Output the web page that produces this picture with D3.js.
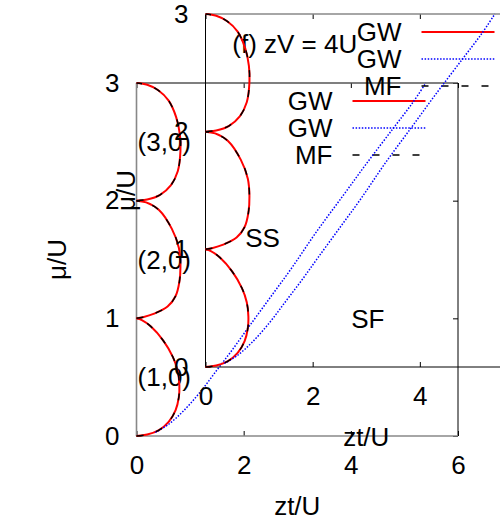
<!DOCTYPE html>
<html><head><meta charset="utf-8">
<script src="https://cdn.jsdelivr.net/npm/d3@7"></script>
<style>body{margin:0;background:#fff} text{font-family:"Liberation Sans",Arial,Helvetica,sans-serif;}</style>
</head><body><svg id="c" width="500" height="525"></svg>
<script>
// ---- data ----
const xTicks = [0, 2, 4, 6];
const yTicks = [0, 1, 2, 3];
const lobe1 = [[0,0],[0.2,0.012],[0.42,0.05],[0.6,0.12],[0.73,0.22],[0.79,0.33],[0.8,0.43],[0.77,0.55],[0.68,0.67],[0.5,0.81],[0.27,0.93],[0.1,0.985],[0,1]];
const lobe2 = [[0,1],[0.12,1.01],[0.33,1.04],[0.58,1.1],[0.73,1.19],[0.8,1.31],[0.82,1.45],[0.79,1.6],[0.66,1.76],[0.42,1.92],[0.18,1.985],[0,2]];
const lobe3 = [[0,2],[0.2,2.01],[0.44,2.05],[0.64,2.13],[0.77,2.25],[0.82,2.42],[0.81,2.56],[0.74,2.71],[0.6,2.85],[0.4,2.94],[0.2,2.985],[0,3]];
const boundary = [[0.35,0.03],[0.6,0.1],[0.87,0.21],[1.2,0.38],[1.5,0.56],[1.8,0.74],[2.1,0.93],[2.5,1.18],[2.9,1.43],[3.35,1.73],[3.85,2.04],[4.3,2.32],[4.8,2.62],[5.15,2.83],[5.4,3.0]];
const legendNames = ["GW", "GW", "MF"];
const labelsA = [["(1,0)",0.02,0.5],["(2,0)",0.02,1.5],["(3,0)",0.02,2.5]];
const labelsB = [["(f) zV = 4U",0.5,2.75],["SS",0.74,1.1],["SF",2.72,0.41]];
const xLabel = "zt/U", yLabel = "μ/U";

// ---- drawing ----
const svg = d3.select("#c");
const W = 321.5, H = 353, FS = 26;
const lobes = [lobe1, lobe2, lobe3];

function panel(x0, y0, labels, borders) {
  const g = svg.append("g");
  const x = d3.scaleLinear([0, 6], [x0, x0 + W]);
  const y = d3.scaleLinear([0, 3], [y0 + H, y0]);
  const fmt = d => (x(d) > 500 ? "" : d3.format("d")(d));
  const ax = [
    [d3.axisBottom(x).tickValues(xTicks).tickSize(-5).tickPadding(20).tickFormat(d => (x(d) > 500 ? "" : String(d))), y0 + H, 0],
    [d3.axisTop(x).tickValues(xTicks).tickSize(-5).tickFormat(""), y0, 0],
    [d3.axisLeft(y).tickValues(yTicks).tickSize(-5).tickPadding(17).tickFormat(d3.format("d")), 0, x0],
    [d3.axisRight(y).tickValues(yTicks).tickSize(-5).tickFormat(""), 0, x0 + W]
  ];
  ax.forEach(([a, ty, tx]) => {
    const s = g.append("g").attr("transform", `translate(${tx},${ty})`).call(a);
    s.select(".domain").remove();
    s.selectAll("line").attr("stroke", "#000");
    s.selectAll("text").attr("font-size", FS).attr("fill", "#000")
      .attr("font-family", '"Liberation Sans",Arial,sans-serif');
  });
  // frame
  const fr = [
    [x0, y0 + H, x0, y0, borders[0]],
    [x0, y0, x0 + W, y0, borders[1]],
    [x0 + W, y0, x0 + W, y0 + H, borders[2]],
    [x0, y0 + H, x0 + W, y0 + H, borders[3]]
  ];
  fr.forEach(([a, b, c, d, col]) => g.append("line").attr("x1", a).attr("y1", b).attr("x2", c).attr("y2", d)
    .attr("stroke", col).attr("stroke-width", col === "#000" ? 1 : 1.6));
  // axis titles
  g.append("text").attr("x", x0 + W / 2).attr("y", y0 + H + 70).attr("dy", "0.35em")
    .attr("text-anchor", "middle").attr("font-size", FS).text(xLabel);
  g.append("text").attr("transform", `translate(${x0 - 80},${y0 + H / 2}) rotate(-90)`).attr("dy", "0.35em")
    .attr("text-anchor", "middle").attr("font-size", FS).text(yLabel);
  // labels
  labels.forEach(([t, lx, ly]) => g.append("text").attr("x", x(lx)).attr("y", y(ly)).attr("dy", "0.35em")
    .attr("font-size", FS).text(t));
  // legend
  const styles = [
    {stroke: "#ff0000", w: 2, dash: null},
    {stroke: "#0000ff", w: 1.5, dash: "1.5,1.6"},
    {stroke: "#000", w: 1.5, dash: "7,13"}
  ];
  legendNames.forEach((n, i) => {
    const ly = y0 + 18 + i * 27;
    g.append("text").attr("x", x0 + 196).attr("y", ly).attr("dy", "0.35em")
      .attr("text-anchor", "end").attr("font-size", FS).text(n);
    const st = styles[i];
    g.append("line").attr("x1", x0 + 216).attr("x2", x0 + 289).attr("y1", ly).attr("y2", ly)
      .attr("stroke", st.stroke).attr("stroke-width", st.w).attr("stroke-dasharray", st.dash);
  });
  const line = d3.line().x(d => x(d[0])).y(d => y(d[1])).curve(d3.curveCatmullRom.alpha(0.5));
  lobes.forEach(l => g.append("path").attr("d", line(l)).attr("fill", "none")
    .attr("stroke", "#ff0000").attr("stroke-width", 2));
  g.append("path").attr("d", line(boundary)).attr("fill", "none")
    .attr("stroke", "#0000ff").attr("stroke-width", 1.5).attr("stroke-dasharray", "1.5,1.6");
  lobes.forEach(l => g.append("path").attr("d", line(l)).attr("fill", "none")
    .attr("stroke", "#000").attr("stroke-width", 1.5).attr("stroke-dasharray", "7,13"));
}

panel(136.5, 83, labelsA, ["#888", "#555", "#000", "#888"]);
panel(205.5, 14, labelsB, ["#000", "#888", "#000", "#000"]);
</script></body></html>
